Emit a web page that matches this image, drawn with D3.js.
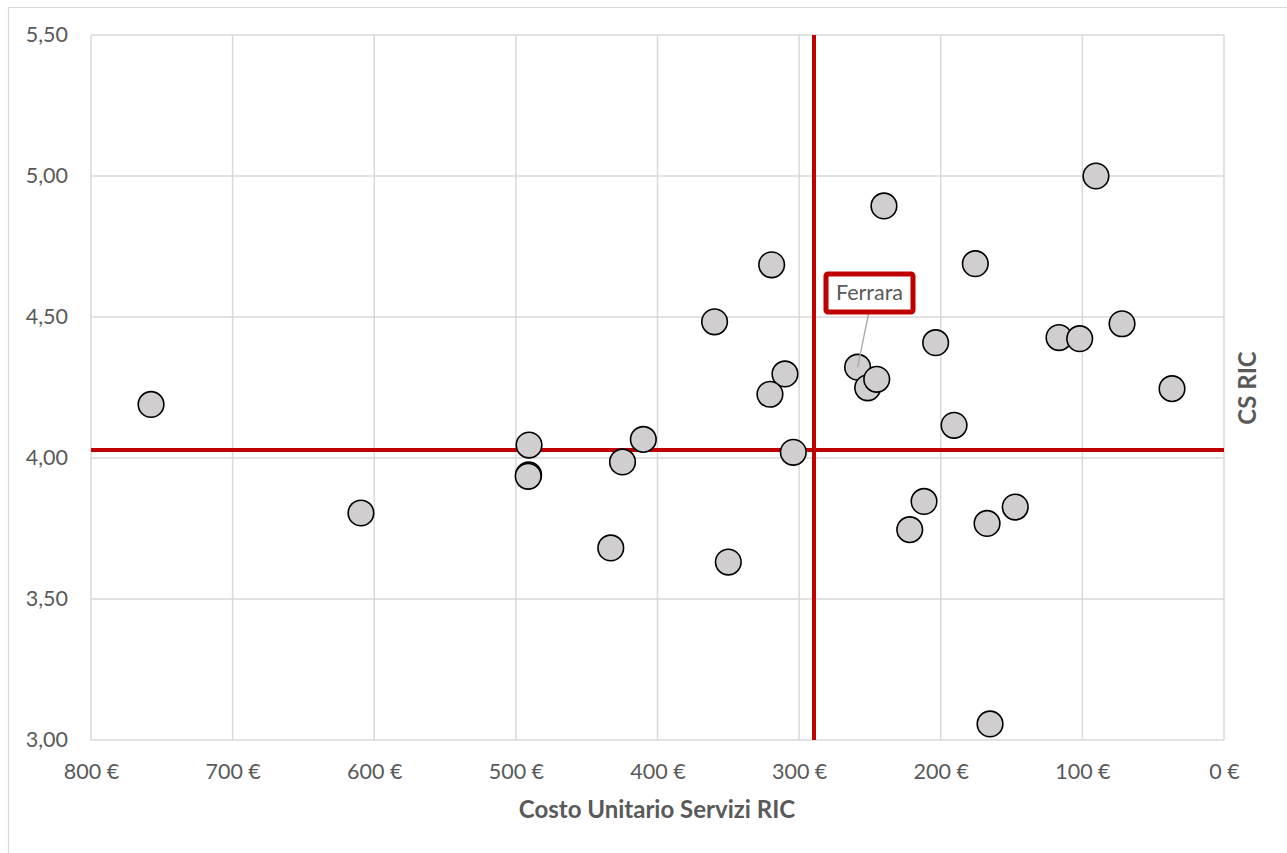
<!DOCTYPE html>
<html>
<head>
<meta charset="utf-8">
<script src="https://cdn.jsdelivr.net/npm/d3@7/dist/d3.min.js"></script>
<style>
  html, body { margin: 0; padding: 0; background: #fff; }
  svg { display: block; font-family: Lato, "Open Sans", "Liberation Sans", sans-serif; }
</style>
</head>
<body>
<svg id="chart" width="1287" height="853"></svg>
<script>
// Unit cost of RIC services (€) per structure
const costo = [757.6, 609.4, 490.7, 491.0, 491.3, 424.7, 410.0, 433.0, 350.0, 304.1,
               359.7, 319.4, 310.0, 320.6, 240.1, 175.6, 258.7, 251.6, 245.2, 203.6,
               190.6, 90.4, 116.5, 101.9, 72.0, 36.7, 211.8, 221.9, 167.3, 147.4, 165.2];
// Customer satisfaction score (CS RIC)
const csRic = [4.19, 3.805, 4.046, 3.94, 3.935, 3.986, 4.066, 3.681, 3.631, 4.02,
               4.483, 4.685, 4.298, 4.226, 4.894, 4.689, 4.322, 4.249, 4.279, 4.409,
               4.116, 5.00, 4.427, 4.423, 4.476, 4.246, 3.846, 3.746, 3.768, 3.826, 3.057];
// Structure names (only Ferrara is labelled)
const nomi = costo.map((d, i) => i === 16 ? "Ferrara" : "");
// Reference lines (averages)
const mediaCosto = 289.5;
const mediaCs = 4.028;
// Ticks
const xTicks = [800, 700, 600, 500, 400, 300, 200, 100, 0];
const yTicks = [3.0, 3.5, 4.0, 4.5, 5.0, 5.5];

const svg = d3.select("#chart");
const plotL = 91, plotR = 1224, plotT = 35, plotB = 740;

const x = d3.scaleLinear().domain([800, 0]).range([plotL, plotR]);
const y = d3.scaleLinear().domain([3, 5.5]).range([plotB, plotT]);

const grey = "#595959";
const gridCol = "#d9d9d9";
const fontFam = "Lato, 'Open Sans', 'Liberation Sans', sans-serif";

// outer frame (top and left edges)
svg.append("line").attr("x1", 8).attr("x2", 1287).attr("y1", 7.5).attr("y2", 7.5)
  .attr("stroke", gridCol).attr("stroke-width", 1.2);
svg.append("line").attr("x1", 8.5).attr("x2", 8.5).attr("y1", 7).attr("y2", 853)
  .attr("stroke", gridCol).attr("stroke-width", 1.2);

// gridlines
svg.append("g").selectAll("line").data(xTicks).join("line")
  .attr("x1", d => x(d)).attr("x2", d => x(d))
  .attr("y1", plotT).attr("y2", plotB)
  .attr("stroke", gridCol).attr("stroke-width", 1.5);
svg.append("g").selectAll("line").data(yTicks).join("line")
  .attr("x1", plotL).attr("x2", plotR)
  .attr("y1", d => y(d)).attr("y2", d => y(d))
  .attr("stroke", gridCol).attr("stroke-width", 1.5);

// axes (labels only)
const fmtY = d => d3.format(".2f")(d).replace(".", ",");
const xAxis = svg.append("g").attr("transform", `translate(0,${plotB})`)
  .call(d3.axisBottom(x).tickValues(xTicks).tickFormat(d => d + " €").tickSize(0).tickPadding(24));
const yAxis = svg.append("g").attr("transform", `translate(${plotL},0)`)
  .call(d3.axisLeft(y).tickValues(yTicks).tickFormat(fmtY).tickSize(0).tickPadding(23));
[xAxis, yAxis].forEach(a => {
  a.select(".domain").remove();
  a.selectAll("text").attr("fill", grey).attr("font-size", 21.5)
    .attr("font-family", fontFam);
});

// axis titles
svg.append("text").attr("x", 657).attr("y", 818).attr("text-anchor", "middle")
  .attr("font-size", 24).attr("font-weight", "bold").attr("fill", grey)
  .text("Costo Unitario Servizi RIC");
svg.append("text").attr("transform", "translate(1256,388) rotate(-90)")
  .attr("text-anchor", "middle").attr("font-size", 24).attr("font-weight", "bold")
  .attr("fill", grey).text("CS RIC");

// average reference lines
const red = "#c00000";
svg.append("line").attr("x1", plotL).attr("x2", plotR)
  .attr("y1", y(mediaCs)).attr("y2", y(mediaCs))
  .attr("stroke", red).attr("stroke-width", 4);
svg.append("line").attr("x1", x(mediaCosto)).attr("x2", x(mediaCosto))
  .attr("y1", plotT).attr("y2", plotB)
  .attr("stroke", red).attr("stroke-width", 4);

// points
const pts = costo.map((c, i) => ({ c, v: csRic[i], n: nomi[i] }));
svg.append("g").selectAll("circle").data(pts).join("circle")
  .attr("cx", d => x(d.c)).attr("cy", d => y(d.v)).attr("r", 12.8)
  .attr("fill", "#d0cece").attr("stroke", "#000").attr("stroke-width", 1.6);

// Ferrara callout
const fe = pts.find(d => d.n === "Ferrara");
const bx = 826, by = 274, bw = 87, bh = 38;
svg.append("line").attr("x1", bx + bw / 2 - 1).attr("y1", by + bh + 2)
  .attr("x2", x(fe.c)).attr("y2", y(fe.v))
  .attr("stroke", "#a6a6a6").attr("stroke-width", 1.3);
svg.append("rect").attr("x", bx).attr("y", by).attr("width", bw).attr("height", bh)
  .attr("rx", 2).attr("fill", "#fff").attr("stroke", red).attr("stroke-width", 5);
svg.append("text").attr("x", bx + bw / 2).attr("y", by + bh / 2 + 7)
  .attr("text-anchor", "middle").attr("font-size", 21.5).attr("fill", grey)
  .text(fe.n);
</script>
</body>
</html>
